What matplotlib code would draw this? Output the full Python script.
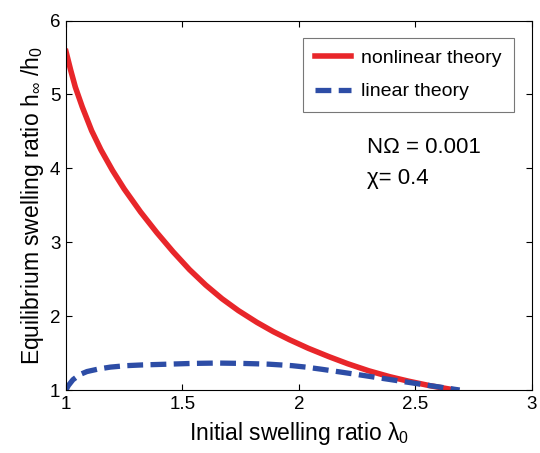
import numpy as np
import matplotlib
matplotlib.use('Agg')
import matplotlib.pyplot as plt

plt.rcParams['font.family'] = ['Liberation Sans', 'DejaVu Sans']
plt.rcParams['mathtext.fontset'] = 'custom'
plt.rcParams['mathtext.rm'] = 'Liberation Sans'
plt.rcParams['mathtext.it'] = 'Liberation Sans'

# nelinearni teorie
lam_nl = [1.0, 1.02, 1.04, 1.07, 1.11, 1.15, 1.2, 1.25, 1.32, 1.39, 1.46,
          1.53, 1.6, 1.67, 1.74, 1.82, 1.89, 1.96, 2.04, 2.13, 2.21, 2.3,
          2.39, 2.47, 2.56, 2.67]
h_nl = [5.58, 5.33, 5.1, 4.83, 4.51, 4.25, 3.97, 3.72, 3.41, 3.13, 2.87,
        2.63, 2.42, 2.235, 2.075, 1.915, 1.79, 1.68, 1.565, 1.45, 1.355, 1.26,
        1.18, 1.12, 1.06, 1.0]

# linearni teorie
lam_lin = [1.0, 1.01, 1.03, 1.06, 1.09, 1.14, 1.19, 1.26, 1.33, 1.44, 1.54,
           1.65, 1.76, 1.87, 1.97, 2.03, 2.1, 2.24, 2.385, 2.53, 2.69]
h_lin = [1.0, 1.06, 1.14, 1.21, 1.25, 1.285, 1.31, 1.33, 1.34, 1.35, 1.36,
         1.365, 1.36, 1.35, 1.33, 1.31, 1.28, 1.215, 1.145, 1.075, 1.0]

fig = plt.figure(figsize=(5.4, 4.53), dpi=100)
ax = fig.add_axes([0.1222, 0.139, 0.8628, 0.8157])

ax.plot(lam_nl, h_nl, color='#e8262a', lw=4, label='nonlinear theory')
ax.plot(lam_lin, h_lin, color='#2d4da6', lw=3.8, dashes=(3.0, 1.4),
        label='linear theory')

ax.set_xlim(1, 3)
ax.set_ylim(1, 6)
ax.set_xticks([1, 1.5, 2, 2.5, 3])
ax.set_xticklabels(['1', '1.5', '2', '2.5', '3'])
ax.set_yticks([1, 2, 3, 4, 5, 6])
ax.tick_params(direction='in', top=True, right=True, labelsize=13.5,
               length=4, width=0.8, pad=4)
for s in ax.spines.values():
    s.set_linewidth(0.8)

ax.set_xlabel(r'Initial swelling ratio $\lambda_0$', fontsize=16.5, labelpad=5)
ax.set_ylabel(r'Equilibrium swelling ratio h$_\infty$ /h$_0$', fontsize=16.5,
              labelpad=3)

leg = ax.legend(loc='upper right', bbox_to_anchor=(0.961, 0.954),
                borderaxespad=0, fontsize=14, frameon=True, fancybox=False,
                edgecolor='#555555', handlelength=1.85, handletextpad=0.5,
                borderpad=0.62, labelspacing=0.8)
leg.get_frame().set_linewidth(0.8)

ax.text(0.646, 0.657, 'NΩ = 0.001', transform=ax.transAxes, fontsize=16,
        va='center')
ax.text(0.646, 0.573, 'χ= 0.4', transform=ax.transAxes, fontsize=16,
        va='center')

fig.savefig('out.png', dpi=100)
